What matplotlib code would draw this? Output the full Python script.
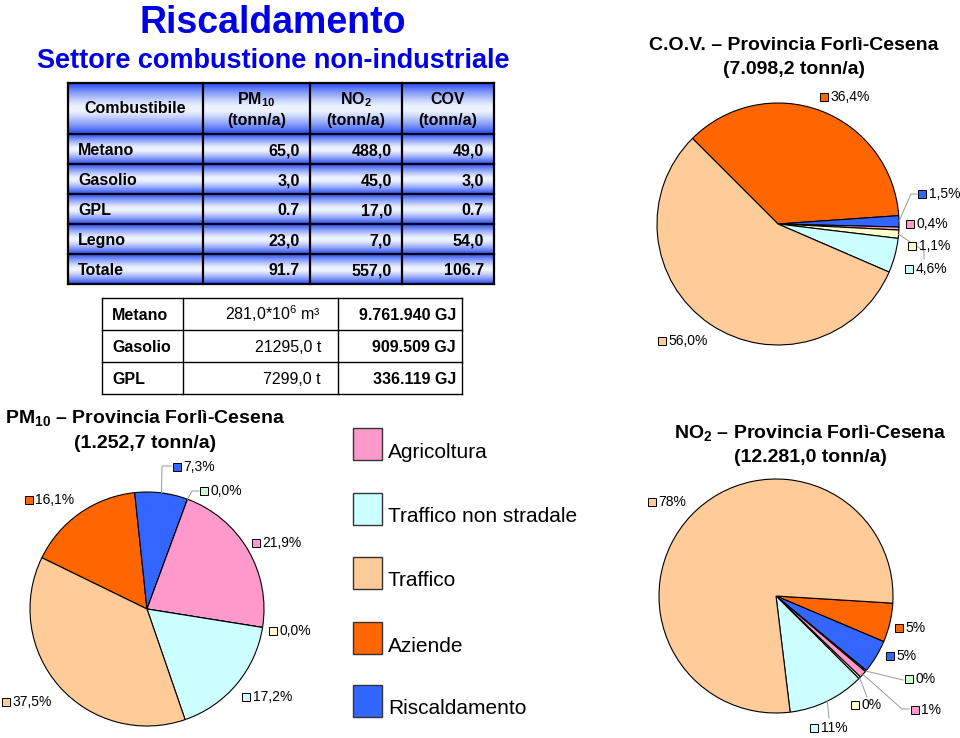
import numpy as np
import matplotlib
matplotlib.use("Agg")
import matplotlib.pyplot as plt
from matplotlib.patches import Rectangle

plt.rcParams['font.family'] = ['Liberation Sans', 'DejaVu Sans']
plt.rcParams['mathtext.fontset'] = 'custom'
plt.rcParams['mathtext.rm'] = 'Liberation Sans'
plt.rcParams['mathtext.it'] = 'Liberation Sans:italic'
plt.rcParams['mathtext.bf'] = 'Liberation Sans:bold'
plt.rcParams['mathtext.default'] = 'regular'

# ---------------- data ----------------
fuels = ["Metano", "Gasolio", "GPL", "Legno", "Totale"]
pm10_tonn = ["65,0", "3,0", "0.7", "23,0", "91.7"]
no2_tonn = ["488,0", "45,0", "17,0", "7,0", "557,0"]
cov_tonn = ["49,0", "3,0", "0.7", "54,0", "106.7"]
table_header = ["Combustibile", "PM$_{10}$\n(tonn/a)", "NO$_2$\n(tonn/a)", "COV\n(tonn/a)"]

cons_fuels = ["Metano", "Gasolio", "GPL"]
cons_qty = ["281,0*10$^{6}$ m³", "21295,0 t", "7299,0 t"]
cons_energy = ["9.761.940 GJ", "909.509 GJ", "336.119 GJ"]

sectors = ["Aziende", "Riscaldamento", "Altro (a)", "Agricoltura", "Altro (b)",
           "Traffico non stradale", "Traffico"]
sector_colors = ["#FF6600", "#3366FF", "#CCFFCC", "#FF99CC", "#FFFFCC", "#CCFFFF", "#FFCC99"]
legend_sectors = ["Agricoltura", "Traffico non stradale", "Traffico", "Aziende", "Riscaldamento"]

cov_share = [36.4, 1.5, None, 0.4, 1.1, 4.6, 56.0]
pm10_share = [16.1, 7.3, 0.0, 21.9, 0.0, 17.2, 37.5]
no2_share = [5.4, 4.6, 0.2, 1.0, 0.3, 10.6, 77.9]

cov_title = "C.O.V. – Provincia Forlì-Cesena\n(7.098,2 tonn/a)"
pm10_title = "PM$_{10}$ – Provincia Forlì-Cesena\n(1.252,7 tonn/a)"
no2_title = "NO$_2$ – Provincia Forlì-Cesena\n(12.281,0 tonn/a)"

# ---------------- figure ----------------
W, H = 960, 738
fig = plt.figure(figsize=(W / 100, H / 100), dpi=100)
fig.patch.set_facecolor('white')

bg = fig.add_axes([0, 0, 1, 1])
bg.set_xlim(0, W); bg.set_ylim(H, 0); bg.axis('off'); bg.set_autoscale_on(False)

BLUE_T = '#0000E6'
bg.text(273, 33, "Riscaldamento", ha='center', va='baseline', fontsize=27,
        fontweight='bold', color=BLUE_T)
bg.text(273, 68, "Settore combustione non-industriale", ha='center', va='baseline',
        fontsize=19.5, fontweight='bold', color=BLUE_T)

# ---- table 1 (gradient rows) ----
col_x = [68, 203, 310, 402, 494]
row_y = [83, 134, 164, 194, 224, 254, 284]
edge = np.array([0.16, 0.30, 0.95])
light = np.array([0.93, 0.95, 1.0])
for r in range(len(row_y) - 1):
    t = np.linspace(0, 1, 64)
    f = 1 - np.abs(2 * t - 1) ** 1.3
    f = np.clip(f * 1.05, 0, 1)
    img = edge[None, :] + (light - edge)[None, :] * f[:, None]
    bg.imshow(img[:, None, :], extent=(col_x[0], col_x[-1], row_y[r + 1], row_y[r]),
              aspect='auto', interpolation='bilinear', zorder=1)
for x in col_x:
    bg.plot([x, x], [row_y[0], row_y[-1]], color='black', lw=1.6, zorder=2)
for y in row_y:
    bg.plot([col_x[0], col_x[-1]], [y, y], color='black', lw=1.6, zorder=2)

hdr_c = (row_y[0] + row_y[1]) / 2
bg.text((col_x[0] + col_x[1]) / 2, hdr_c, table_header[0], ha='center', va='center',
        fontsize=11.5, fontweight='bold', zorder=3)
for j in range(1, 4):
    l1, l2 = table_header[j].split("\n")
    cx = (col_x[j] + col_x[j + 1]) / 2
    bg.text(cx, hdr_c - 4, l1, ha='center', va='baseline', fontsize=11.5,
            fontweight='bold', zorder=3)
    bg.text(cx, hdr_c + 16, l2, ha='center', va='baseline', fontsize=11.5,
            fontweight='bold', zorder=3)
cols = [pm10_tonn, no2_tonn, cov_tonn]
for i, fuel in enumerate(fuels):
    yb = (row_y[i + 1] + row_y[i + 2]) / 2 + 6
    bg.text(col_x[0] + 10, yb, fuel, ha='left', va='baseline', fontsize=11.5,
            fontweight='bold', zorder=3)
    for j in range(3):
        bg.text(col_x[j + 2] - 10, yb, cols[j][i], ha='right', va='baseline',
                fontsize=11.5, fontweight='bold', zorder=3)

# ---- table 2 ----
c2x = [102, 183, 338, 462]
c2y = [298, 330, 362, 394]
for x in c2x:
    bg.plot([x, x], [c2y[0], c2y[-1]], color='black', lw=1.0)
for y in c2y:
    bg.plot([c2x[0], c2x[-1]], [y, y], color='black', lw=1.0)
for i in range(3):
    yb = (c2y[i] + c2y[i + 1]) / 2 + 6
    bg.text(c2x[0] + 10, yb, cons_fuels[i], ha='left', va='baseline', fontsize=11.5,
            fontweight='bold')
    bg.text(c2x[2] - 17, yb, cons_qty[i], ha='right', va='baseline', fontsize=11.5)
    bg.text(c2x[3] - 6, yb, cons_energy[i], ha='right', va='baseline', fontsize=11.5,
            fontweight='bold')

# ---- legend ----
leg_y = [428, 493, 557, 622, 685]
for name, y in zip(legend_sectors, leg_y):
    c = sector_colors[sectors.index(name)]
    bg.add_patch(Rectangle((353, y), 29, 32, facecolor=c, edgecolor='#333333', lw=1.0))
    bg.text(388, y + 24, name, ha='left', va='center', fontsize=15)

# ---- chart titles ----
for txt, cx, cy in [(cov_title, 794, 45), (pm10_title, 145, 418), (no2_title, 810, 433)]:
    l1, l2 = txt.split("\n")
    bg.text(cx, cy, l1, ha='center', va='center', fontsize=14, fontweight='bold')
    bg.text(cx, cy + 25, l2, ha='center', va='center', fontsize=14, fontweight='bold')

# ---------------- pies ----------------
def make_pie(cx, cy, r, shares, start):
    ax = fig.add_axes([(cx - r) / W, 1 - (cy + r) / H, 2 * r / W, 2 * r / H])
    idx = [i for i, v in enumerate(shares) if v is not None]
    vals = [shares[i] for i in idx]
    wedges, _ = ax.pie(vals, colors=[sector_colors[i] for i in idx], startangle=start,
                       counterclock=False,
                       wedgeprops=dict(edgecolor='black', linewidth=0.8))
    ax.set_xlim(-1, 1); ax.set_ylim(-1, 1); ax.set_aspect('equal'); ax.axis('off')
    return ax, dict(zip(idx, wedges))

pies = [
    (make_pie(778, 224, 121, cov_share, 135), cov_share, "{:.1f}%",
     {0: (824, 97), 1: (922, 194), 3: (910, 224), 4: (912, 246), 5: (909, 269), 6: (662, 341)},
     {1: [(911, 194), (917, 194)], 4: [(924, 251), (924, 259)]}),
    (make_pie(147, 609, 117, pm10_share, 154), pm10_share, "{:.1f}%",
     {0: (29, 500), 1: (177, 467), 2: (204, 491), 3: (256, 543), 4: (273, 631),
      5: (246, 697), 6: (6, 702)},
     {1: [(162, 466), (171, 466)], 2: [(192, 491), (199, 491)]}),
    (make_pie(776, 596, 117, no2_share, -3.5), no2_share, "{:.0f}%",
     {0: (899, 628), 1: (890, 656), 2: (909, 679), 3: (915, 710), 4: (855, 705),
      5: (814, 728), 6: (652, 502)},
     {2: [(903, 680)], 3: [(902, 709), (909, 709)], 4: [(867, 697)], 5: [(829, 718)]}),
]

ov = fig.add_axes([0, 0, 1, 1])
ov.set_xlim(0, W); ov.set_ylim(H, 0); ov.axis('off'); ov.set_autoscale_on(False)
ov.patch.set_alpha(0)

for (ax, wmap), shares, fmt, lpos, leaders in pies:
    for i, w in wmap.items():
        if i in leaders:
            ang = np.deg2rad((w.theta1 + w.theta2) / 2)
            p = ax.transData.transform((np.cos(ang), np.sin(ang)))
            p = ov.transData.inverted().transform(p)
            xs = [p[0]] + [q[0] for q in leaders[i]]
            ys = [p[1]] + [q[1] for q in leaders[i]]
            ov.plot(xs, ys, color='#999999', lw=0.7)
        if i in lpos:
            lx, ly = lpos[i]
            ov.plot([lx], [ly], marker='s', ms=5.5, mfc=sector_colors[i], mec='black',
                    mew=0.7, ls='none')
            ov.text(lx + 6.5, ly, fmt.format(shares[i]).replace('.', ','), fontsize=10,
                    ha='left', va='center')

fig.savefig("out.png", dpi=100)
